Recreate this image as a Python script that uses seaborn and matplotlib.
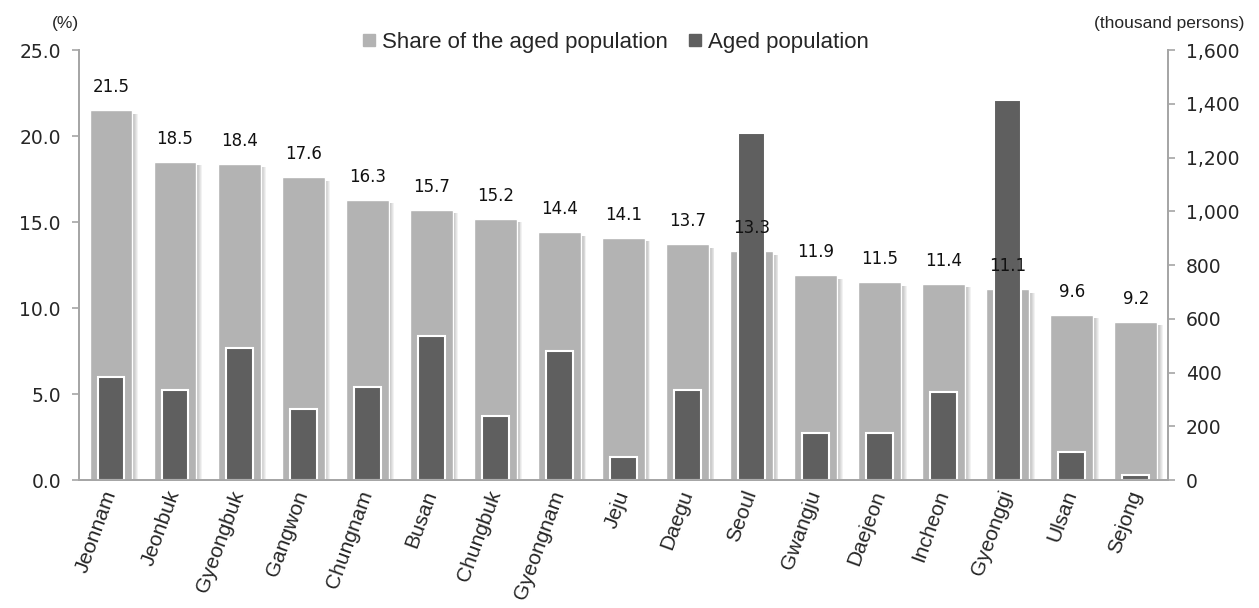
import numpy as np
import matplotlib
matplotlib.use("Agg")
import matplotlib.pyplot as plt
from matplotlib.lines import Line2D
import seaborn as sns

regions = ["Jeonnam", "Jeonbuk", "Gyeongbuk", "Gangwon", "Chungnam", "Busan",
           "Chungbuk", "Gyeongnam", "Jeju", "Daegu", "Seoul", "Gwangju",
           "Daejeon", "Incheon", "Gyeonggi", "Ulsan", "Sejong"]
share_pct = [21.5, 18.5, 18.4, 17.6, 16.3, 15.7, 15.2, 14.4, 14.1, 13.7, 13.3,
             11.9, 11.5, 11.4, 11.1, 9.6, 9.2]
aged_thousand = [382, 335, 490, 264, 345, 535, 238, 479, 85, 335, 1290,
                 175, 175, 328, 1413, 105, 19]
left_ticks = [0, 5, 10, 15, 20, 25]
right_ticks = [0, 200, 400, 600, 800, 1000, 1200, 1400, 1600]

LIGHT = "#b3b3b3"
DARK = "#5f5f5f"
SPINE = "#a6a6a6"

sns.set_style("white")
plt.rcParams["font.family"] = ["DejaVu Sans"]
NARROW = ["Liberation Sans Narrow", "Liberation Sans", "DejaVu Sans"]

fig = plt.figure(figsize=(12.59, 6.08), dpi=100)
ax = fig.add_axes([0.0627, 0.2105, 0.8650, 0.7072])

# soft drop shadow on the right side of the share bars
pos = np.arange(len(regions))
light_w = 0.67
for k in range(6):
    ax.bar(pos + 0.015 + k * 0.014, np.array(share_pct) - 0.2, width=light_w,
           color="#000000", alpha=0.05, linewidth=0, zorder=1)

sns.barplot(x=regions, y=share_pct, color=LIGHT, width=light_w, saturation=1,
            ax=ax, zorder=2)

ax.set_xlim(-0.5, len(regions) - 0.5)
ax.set_ylim(0, 25)
ax.set_yticks(left_ticks)
ax.set_yticklabels([f"{t:.1f}" for t in left_ticks], fontsize=13.5)
ax.set_xlabel("")
ax.set_ylabel("")

ax2 = ax.twinx()
sns.barplot(x=regions, y=aged_thousand, color=DARK, width=0.42, saturation=1,
            edgecolor="white", linewidth=1.5, ax=ax2)
ax2.set_ylim(0, 1600)
ax2.set_yticks(right_ticks)
ax2.set_yticklabels([f"{t:,}" for t in right_ticks], fontsize=13.5)
ax2.set_ylabel("")
ax2.set_xlim(-0.5, len(regions) - 0.5)

# share values printed above the light bars, on top of everything
for p, v in zip(pos, share_pct):
    ax2.annotate(f"{v:.1f}", (p, v), xycoords=ax.transData, xytext=(0, 10),
                 textcoords="offset points", ha="center", va="bottom",
                 fontsize=12, color="#111111", zorder=5)

for a in (ax, ax2):
    a.spines["top"].set_visible(False)
    for s in ("left", "right", "bottom"):
        a.spines[s].set_color(SPINE)
        a.spines[s].set_linewidth(1.3)
    a.tick_params(axis="y", length=5, width=1.2, color=SPINE, pad=8)
    a.tick_params(axis="x", length=0)
    a.grid(False)

ax.set_xticks(pos)
ax.set_xticklabels(regions, rotation=70, ha="right", va="center",
                   rotation_mode="anchor", family=NARROW, fontsize=15)
ax.tick_params(axis="x", pad=8)

fig.text(0.052, 0.962, "(%)", family=NARROW, fontsize=12.5, ha="center", va="center")
fig.text(0.988, 0.962, "(thousand persons)", family=NARROW, fontsize=12.5,
         ha="right", va="center")

handles = [Line2D([], [], marker="s", linestyle="none", markersize=9,
                  markerfacecolor=c, markeredgecolor=c) for c in (LIGHT, DARK)]
fig.legend(handles, ["Share of the aged population", "Aged population"],
           loc="center", bbox_to_anchor=(0.487, 0.93), ncol=2, frameon=False,
           prop={"family": NARROW, "size": 16}, handletextpad=0.1,
           columnspacing=0.7, handlelength=1.0)

fig.savefig("out.png", dpi=100)
